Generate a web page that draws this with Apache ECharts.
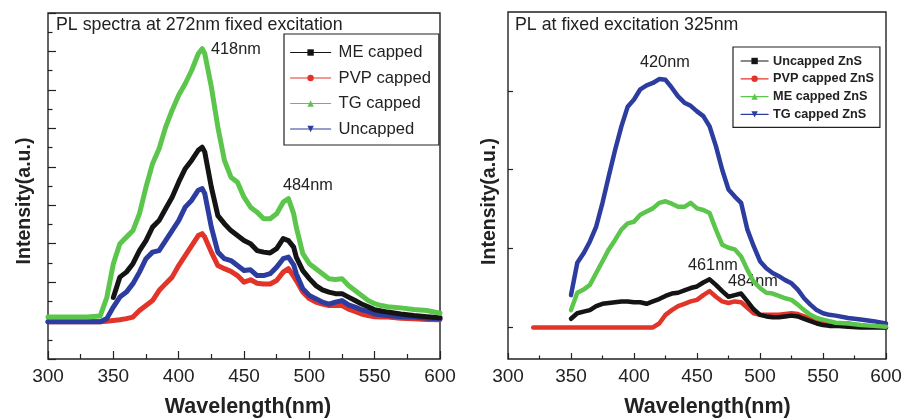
<!DOCTYPE html>
<html><head><meta charset="utf-8">
<script src="https://cdn.jsdelivr.net/npm/echarts@6/dist/echarts.min.js"></script>
<style>html,body{margin:0;padding:0;background:#fff}#c{width:910px;height:420px}</style>
</head><body><div id="c"></div>
<script>
const FONT = '"Liberation Sans", Arial, Helvetica, sans-serif';
const BLACK = '#141414', RED = '#e2352a', GREEN = '#5cc64c', BLUE = '#2d3d9f';

// ---- Left panel: PL spectra at 272nm excitation ----
const leftWl = [300,310,320,330,340,345,350,355,360,365,370,375,380,385,390,395,400,405,410,415,418,420,425,430,435,440,445,450,455,460,465,470,475,480,484,488,490,495,500,505,510,515,520,525,530,535,540,545,550,555,560,570,580,590,600];
const leftME = [null,null,null,null,null,null,0.6,1.13,1.26,1.48,1.82,2.08,2.43,2.6,2.91,3.21,3.6,3.95,4.17,4.43,4.51,4.38,3.47,2.73,2.52,2.34,2.21,2.08,2.0,1.82,1.78,1.76,1.87,2.13,2.08,1.91,1.65,1.3,1.09,0.91,0.8,0.74,0.7,0.7,0.61,0.52,0.43,0.36,0.28,0.25,0.22,0.17,0.13,0.1,0.07];
const leftPVP = [-0.03,-0.03,-0.03,-0.03,-0.03,-0.02,0.0,0.02,0.05,0.09,0.26,0.39,0.52,0.78,0.96,1.13,1.43,1.69,1.95,2.21,2.26,2.17,1.78,1.43,1.35,1.28,1.17,1.0,1.06,0.97,0.95,0.95,1.04,1.26,1.35,1.15,1.04,0.74,0.57,0.48,0.43,0.39,0.39,0.39,0.3,0.24,0.17,0.13,0.1,0.09,0.09,0.06,0.05,0.03,0.02];
const leftTG = [0.09,0.09,0.09,0.09,0.12,0.6,1.48,2.0,2.17,2.34,2.78,3.47,4.08,4.47,5.03,5.47,5.86,6.16,6.51,6.94,7.07,6.94,6.08,5.03,4.17,3.73,3.6,3.21,2.95,2.82,2.65,2.65,2.78,3.08,3.17,2.78,2.43,1.74,1.48,1.35,1.22,1.09,1.07,1.09,0.91,0.78,0.65,0.52,0.44,0.39,0.36,0.33,0.29,0.26,0.19];
const leftUncapped = [-0.03,-0.03,-0.03,-0.03,-0.03,0.05,0.35,0.61,0.74,0.96,1.26,1.61,1.78,1.82,2.08,2.34,2.6,2.95,3.13,3.39,3.43,3.3,2.43,1.78,1.61,1.56,1.43,1.3,1.32,1.17,1.17,1.22,1.39,1.61,1.65,1.45,1.22,0.83,0.65,0.57,0.48,0.43,0.48,0.52,0.41,0.35,0.28,0.24,0.17,0.15,0.13,0.1,0.09,0.06,0.05];
const leftNames = ['ME capped','PVP capped','TG capped','Uncapped'];

// ---- Right panel: PL at fixed excitation 325nm ----
const rightWl = [320,330,340,350,355,360,365,370,375,380,385,390,395,400,405,410,415,420,425,430,435,440,445,450,455,460,465,470,475,480,485,490,495,500,505,510,515,520,525,530,535,540,545,550,555,560,570,580,590,600];
const rightUncapped = [null,null,null,0.11,0.18,0.2,0.22,0.27,0.3,0.31,0.32,0.33,0.33,0.32,0.32,0.3,0.33,0.36,0.4,0.43,0.44,0.47,0.5,0.52,0.57,0.61,0.54,0.46,0.39,0.41,0.43,0.33,0.23,0.16,0.14,0.13,0.13,0.14,0.15,0.14,0.11,0.08,0.05,0.03,0.02,0.02,0.01,0,0,0];
const rightPVP = [0,0,0,0,0,0,0,0,0,0,0,0,0,0,0,0,0,0.05,0.16,0.22,0.27,0.3,0.33,0.35,0.41,0.46,0.39,0.33,0.31,0.33,0.32,0.25,0.18,0.16,0.16,0.16,0.16,0.17,0.18,0.17,0.14,0.11,0.08,0.08,0.06,0.05,0.05,0.02,0.01,0];
const rightME = [null,null,null,0.22,0.44,0.48,0.54,0.69,0.84,0.99,1.11,1.24,1.32,1.34,1.43,1.47,1.51,1.58,1.6,1.57,1.53,1.53,1.58,1.51,1.49,1.45,1.24,1.05,1.01,0.99,0.9,0.73,0.58,0.5,0.44,0.43,0.4,0.37,0.35,0.29,0.22,0.16,0.12,0.1,0.08,0.06,0.05,0.03,0.02,0.01];
const rightTG = [null,null,null,0.41,0.82,0.94,1.09,1.28,1.58,1.92,2.25,2.55,2.8,2.89,3.02,3.07,3.1,3.15,3.14,3.04,2.93,2.85,2.81,2.74,2.68,2.55,2.3,2.0,1.75,1.66,1.58,1.24,1.03,0.84,0.75,0.69,0.65,0.6,0.56,0.48,0.37,0.29,0.22,0.18,0.16,0.15,0.12,0.1,0.08,0.05];
const rightNames = ['Uncapped ZnS','PVP capped ZnS','ME capped ZnS','TG capped ZnS'];

function pairs(wl, vals){ const out=[]; wl.forEach((w,i)=>{ if(vals[i]!==null) out.push([w, vals[i]]); }); return out; }
function ser(name, idx, wl, vals, color, symbol, width, rot){
  return { name, type:'line', xAxisIndex:idx, yAxisIndex:idx, data:pairs(wl, vals),
    symbol, symbolRotate: rot||0, showSymbol:false, smooth:false, silent:true,
    lineStyle:{width, color, join:'round', cap:'round'}, itemStyle:{color} };
}

const chart = echarts.init(document.getElementById('c'), null, {renderer:'canvas'});
const xAxisBase = (idx, maj, min, shift) => ({
  type:'value', gridIndex:idx, min:300, max:600, interval:50, position:'bottom',
  axisLine:{show:false, onZero:false},
  axisTick:{show:true, inside:true, length:maj, lineStyle:{color:'#222', width:1.2}},
  minorTick:{show:true, splitNumber:2, length:min, lineStyle:{color:'#222', width:1.2}},
  splitLine:{show:false}, minorSplitLine:{show:false},
  axisLabel:{show:true, margin:8.5, fontFamily:FONT, fontSize:19, color:'#222'},
  name:'Wavelength(nm)', nameLocation:'middle', nameGap:37,
  nameTextStyle:{fontFamily:FONT, fontSize:21.5, fontWeight:'bold', color:'#222', padding:[0,0,0,shift]}
});

const option = {
  animation:false,
  backgroundColor:'#fff',
  grid:[
    {left:48, top:13, width:392, height:346, show:true, borderColor:'#222', borderWidth:1.4, backgroundColor:'transparent', containLabel:false, outerBoundsMode:'none'},
    {left:508, top:12, width:378, height:347, show:true, borderColor:'#222', borderWidth:1.4, backgroundColor:'transparent', containLabel:false, outerBoundsMode:'none'}
  ],
  xAxis:[ xAxisBase(0, 8, 5, 8), xAxisBase(1, 6, 3.5, 21) ],
  yAxis:[
    {type:'value', gridIndex:0, min:-1, max:8, interval:1,
     axisLine:{show:false, onZero:false},
     axisTick:{show:true, inside:true, length:8, lineStyle:{color:'#222', width:1.2}},
     minorTick:{show:true, splitNumber:2, length:4.5, lineStyle:{color:'#222', width:1.2}},
     axisLabel:{show:false}, splitLine:{show:false},
     name:'Intensity(a.u.)', nameLocation:'middle', nameGap:13,
     nameTextStyle:{fontFamily:FONT, fontSize:19.5, fontWeight:'bold', color:'#222', padding:[0,30,0,0]}},
    {type:'value', gridIndex:1, min:-0.4, max:4,
     axisLine:{show:false, onZero:false},
     axisTick:{show:true, inside:true, length:5, customValues:[0,1,2,3], lineStyle:{color:'#222', width:1.2}},
     minorTick:{show:false},
     axisLabel:{show:false}, splitLine:{show:false},
     name:'Intensity(a.u.)', nameLocation:'middle', nameGap:8,
     nameTextStyle:{fontFamily:FONT, fontSize:19.5, fontWeight:'bold', color:'#222', padding:[0,32,0,0]}}
  ],
  legend:[
    {data:leftNames, orient:'vertical', left:284, top:34,
     itemWidth:40, itemHeight:8, itemGap:7.5, padding:[9.5,8,7,6],
     borderColor:'#222', borderWidth:1.2, backgroundColor:'#fff',
     textStyle:{fontFamily:FONT, fontSize:16.6, color:'#222', lineHeight:18, padding:[0,0,0,3]},
     lineStyle:{width:1.2}, selectedMode:false},
    {data:rightNames, orient:'vertical', left:733, top:47,
     itemWidth:27, itemHeight:8, itemGap:3.8, padding:[7,6,6,7.5],
     borderColor:'#222', borderWidth:1.2, backgroundColor:'#fff',
     textStyle:{fontFamily:FONT, fontSize:12.7, fontWeight:'bold', color:'#222', lineHeight:14},
     lineStyle:{width:1.2}, selectedMode:false}
  ],
  graphic:[
    {type:'text', left:56, top:16, silent:true, style:{text:'PL spectra at 272nm fixed excitation', font:'17.8px '+FONT, fill:'#222'}},
    {type:'text', left:515, top:16, silent:true, style:{text:'PL at fixed excitation 325nm', font:'17.8px '+FONT, fill:'#222'}},
    {type:'text', left:211, top:42, silent:true, style:{text:'418nm', font:'16.3px '+FONT, fill:'#222'}},
    {type:'text', left:283, top:178, silent:true, style:{text:'484nm', font:'16.3px '+FONT, fill:'#222'}},
    {type:'text', left:640, top:55, silent:true, style:{text:'420nm', font:'16.3px '+FONT, fill:'#222'}},
    {type:'text', left:688, top:258, silent:true, style:{text:'461nm', font:'16.3px '+FONT, fill:'#222'}},
    {type:'text', left:728, top:274, silent:true, style:{text:'484nm', font:'16.3px '+FONT, fill:'#222'}}
  ],
  series:[
    ser('PVP capped', 0, leftWl, leftPVP, RED, 'circle', 5),
    ser('Uncapped', 0, leftWl, leftUncapped, BLUE, 'triangle', 5, 180),
    ser('ME capped', 0, leftWl, leftME, BLACK, 'rect', 5),
    ser('TG capped', 0, leftWl, leftTG, GREEN, 'triangle', 5),
    ser('PVP capped ZnS', 1, rightWl, rightPVP, RED, 'circle', 4.5),
    ser('Uncapped ZnS', 1, rightWl, rightUncapped, BLACK, 'rect', 4.5),
    ser('TG capped ZnS', 1, rightWl, rightTG, BLUE, 'triangle', 4.5, 180),
    ser('ME capped ZnS', 1, rightWl, rightME, GREEN, 'triangle', 4.5)
  ]
};
chart.setOption(option);
</script></body></html>
